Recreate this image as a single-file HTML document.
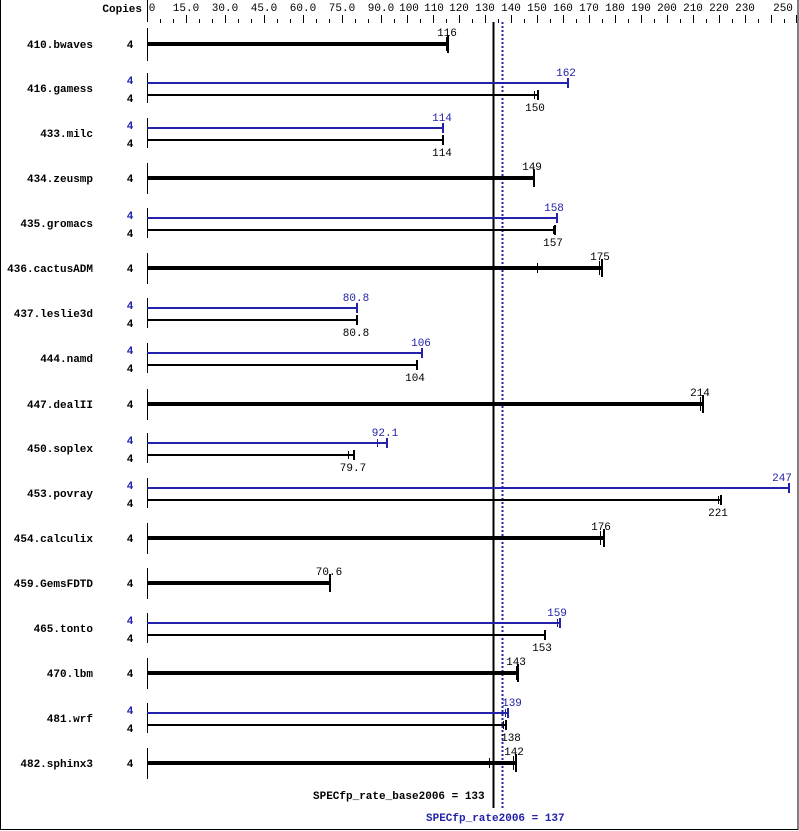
<!DOCTYPE html>
<html><head><meta charset="utf-8"><style>
html,body{margin:0;padding:0;background:#fff;}
svg{display:block;}
text{font-family:"Liberation Mono","DejaVu Sans Mono",monospace;font-size:11px;}
.b{font-weight:bold;}
.bl{fill:#2222aa;}
</style></head><body>
<svg width="799" height="831" viewBox="0 0 799 831" xmlns="http://www.w3.org/2000/svg">
<rect x="0.5" y="-1" width="797.5" height="830.5" fill="none" stroke="#000" stroke-width="1"/>
<text x="142" y="12" text-anchor="end" class="b">Copies</text>
<line x1="147.5" y1="0" x2="147.5" y2="22" stroke="#000"/>
<path stroke="#000" stroke-width="1" fill="none" d="M186.5 15V23M225.5 15V23M264.5 15V23M303.5 15V23M342.5 15V23M381.5 15V23M407.5 15V23M433.5 15V23M459.5 15V23M485.5 15V23M511.5 15V23M537.5 15V23M563.5 15V23M589.5 15V23M615.5 15V23M641.5 15V23M667.5 15V23M693.5 15V23M719.5 15V23M745.5 15V23M771.5 15V23M796.5 15V23
M160.5 19V23M173.5 19V23M199.5 19V23M212.5 19V23M238.5 19V23M251.5 19V23M277.5 19V23M290.5 19V23M316.5 19V23M329.5 19V23M355.5 19V23M368.5 19V23M394.5 19V23M420.5 19V23M446.5 19V23M472.5 19V23M498.5 19V23M524.5 19V23M550.5 19V23M576.5 19V23M602.5 19V23M628.5 19V23M654.5 19V23M680.5 19V23M706.5 19V23M732.5 19V23M758.5 19V23M784.5 19V23"/>
<g font-size="10" text-anchor="middle">
<text x="152" y="11">0</text><text x="186" y="11">15.0</text><text x="225" y="11">30.0</text><text x="264" y="11">45.0</text><text x="303" y="11">60.0</text><text x="342" y="11">75.0</text><text x="381" y="11">90.0</text><text x="409" y="11">100</text><text x="434" y="11">110</text><text x="459" y="11">120</text><text x="485" y="11">130</text><text x="511" y="11">140</text><text x="537" y="11">150</text><text x="563" y="11">160</text><text x="589" y="11">170</text><text x="615" y="11">180</text><text x="641" y="11">190</text><text x="667" y="11">200</text><text x="693" y="11">210</text><text x="719" y="11">220</text><text x="745" y="11">230</text><text x="783" y="11">250</text>
</g>
<line x1="493.5" y1="22" x2="493.5" y2="808" stroke="#000" stroke-width="2"/>
<line x1="502.5" y1="22" x2="502.5" y2="808" stroke="#2222aa" stroke-width="2" stroke-dasharray="2,2"/>
<text x="133" y="799" class="b" text-anchor="start" dx="180">SPECfp_rate_base2006 = 133</text>
<text x="426" y="821" class="b bl">SPECfp_rate2006 = 137</text>

<g class="b" text-anchor="end">
<text x="93" y="48">410.bwaves</text>
<text x="93" y="92">416.gamess</text>
<text x="93" y="137">433.milc</text>
<text x="93" y="182">434.zeusmp</text>
<text x="93" y="227">435.gromacs</text>
<text x="93" y="272">436.cactusADM</text>
<text x="93" y="317">437.leslie3d</text>
<text x="93" y="362">444.namd</text>
<text x="93" y="408">447.dealII</text>
<text x="93" y="452">450.soplex</text>
<text x="93" y="497">453.povray</text>
<text x="93" y="542">454.calculix</text>
<text x="93" y="587">459.GemsFDTD</text>
<text x="93" y="632">465.tonto</text>
<text x="93" y="677">470.lbm</text>
<text x="93" y="722">481.wrf</text>
<text x="93" y="767">482.sphinx3</text>
</g>

<!-- row axes -->
<path stroke="#000" d="M147.5 28V61M147.5 73V103M147.5 118V148M147.5 163V194M147.5 208V238M147.5 253V284M147.5 298V328M147.5 343V373M147.5 389V420M147.5 433V463M147.5 478V508M147.5 523V554M147.5 568V599M147.5 613V643M147.5 658V689M147.5 703V733M147.5 748V779"/>

<!-- single rows -->
<g class="b" text-anchor="middle">
<text x="130" y="48">4</text><text x="130" y="182">4</text><text x="130" y="272">4</text><text x="130" y="408">4</text><text x="130" y="542">4</text><text x="130" y="587">4</text><text x="130" y="677">4</text><text x="130" y="767">4</text>
</g>
<g stroke="#000" stroke-width="4">
<line x1="147" y1="44" x2="448" y2="44"/>
<line x1="147" y1="178" x2="534" y2="178"/>
<line x1="147" y1="268" x2="602" y2="268"/>
<line x1="147" y1="404" x2="703" y2="404"/>
<line x1="147" y1="538" x2="604" y2="538"/>
<line x1="147" y1="583" x2="330" y2="583"/>
<line x1="147" y1="673" x2="518" y2="673"/>
<line x1="147" y1="763" x2="516" y2="763"/>
</g>
<path stroke="#000" stroke-width="2" d="M448 35V53M534 169V187M602 259V277M703 395V413M604 529V547M330 574V592M518 664V682M516 754V772"/>
<path stroke="#000" stroke-width="1" d="M446.5 37V51M537.5 263V273M599.5 261V275M700.5 397V411M600.5 531V545M516.5 666V680M489.5 758V768M513.5 756V770"/>
<g text-anchor="middle">
<text x="447" y="36">116</text><text x="532" y="170">149</text><text x="600" y="260">175</text><text x="700" y="396">214</text><text x="601" y="530">176</text><text x="329" y="575">70.6</text><text x="516" y="665">143</text><text x="514" y="755">142</text>
</g>

<!-- dual rows -->
<g class="b" text-anchor="middle">
<text x="130" y="84" class="bl">4</text><text x="130" y="102">4</text>
<text x="130" y="129" class="bl">4</text><text x="130" y="147">4</text>
<text x="130" y="219" class="bl">4</text><text x="130" y="237">4</text>
<text x="130" y="309" class="bl">4</text><text x="130" y="327">4</text>
<text x="130" y="354" class="bl">4</text><text x="130" y="372">4</text>
<text x="130" y="444" class="bl">4</text><text x="130" y="462">4</text>
<text x="130" y="489" class="bl">4</text><text x="130" y="507">4</text>
<text x="130" y="624" class="bl">4</text><text x="130" y="642">4</text>
<text x="130" y="714" class="bl">4</text><text x="130" y="732">4</text>
</g>
<g stroke="#2222aa" stroke-width="2">
<line x1="147" y1="83" x2="568" y2="83"/><line x1="568" y1="78" x2="568" y2="88"/>
<line x1="147" y1="128" x2="443" y2="128"/><line x1="443" y1="123" x2="443" y2="133"/>
<line x1="147" y1="218" x2="557" y2="218"/><line x1="557" y1="213" x2="557" y2="223"/>
<line x1="147" y1="308" x2="357" y2="308"/><line x1="357" y1="303" x2="357" y2="313"/>
<line x1="147" y1="353" x2="422" y2="353"/><line x1="422" y1="348" x2="422" y2="358"/>
<line x1="147" y1="443" x2="387" y2="443"/><line x1="387" y1="438" x2="387" y2="448"/>
<line x1="147" y1="488" x2="789" y2="488"/><line x1="789" y1="483" x2="789" y2="493"/>
<line x1="147" y1="623" x2="560" y2="623"/><line x1="560" y1="618" x2="560" y2="628"/>
<line x1="147" y1="713" x2="508" y2="713"/><line x1="508" y1="708" x2="508" y2="718"/>
</g>
<path stroke="#2222aa" d="M377.5 439V447M557.5 619V627M505.5 709V717"/>
<g stroke="#000" stroke-width="2">
<line x1="147" y1="95" x2="537" y2="95"/><line x1="538" y1="90" x2="538" y2="100"/>
<line x1="147" y1="140" x2="443" y2="140"/><line x1="443" y1="135" x2="443" y2="145"/>
<line x1="147" y1="230" x2="555" y2="230"/><line x1="555" y1="225" x2="555" y2="235"/>
<line x1="147" y1="320" x2="357" y2="320"/><line x1="357" y1="315" x2="357" y2="325"/>
<line x1="147" y1="365" x2="417" y2="365"/><line x1="417" y1="360" x2="417" y2="370"/>
<line x1="147" y1="455" x2="354" y2="455"/><line x1="354" y1="450" x2="354" y2="460"/>
<line x1="147" y1="500" x2="721" y2="500"/><line x1="721" y1="495" x2="721" y2="505"/>
<line x1="147" y1="635" x2="545" y2="635"/><line x1="545" y1="630" x2="545" y2="640"/>
<line x1="147" y1="725" x2="506" y2="725"/><line x1="506" y1="720" x2="506" y2="730"/>
</g>
<path stroke="#000" d="M534.5 91V99M553.5 226V234M348.5 451V459M718.5 496V504M503.5 721V729"/>
<g text-anchor="middle">
<text x="566" y="76" class="bl">162</text><text x="535" y="111">150</text>
<text x="442" y="121" class="bl">114</text><text x="442" y="156">114</text>
<text x="554" y="211" class="bl">158</text><text x="553" y="246">157</text>
<text x="356" y="301" class="bl">80.8</text><text x="356" y="336">80.8</text>
<text x="421" y="346" class="bl">106</text><text x="415" y="381">104</text>
<text x="385" y="436" class="bl">92.1</text><text x="353" y="471">79.7</text>
<text x="782" y="481" class="bl">247</text><text x="718" y="516">221</text>
<text x="557" y="616" class="bl">159</text><text x="542" y="651">153</text>
<text x="512" y="706" class="bl">139</text><text x="511" y="741">138</text>
</g>
</svg>
</body></html>
